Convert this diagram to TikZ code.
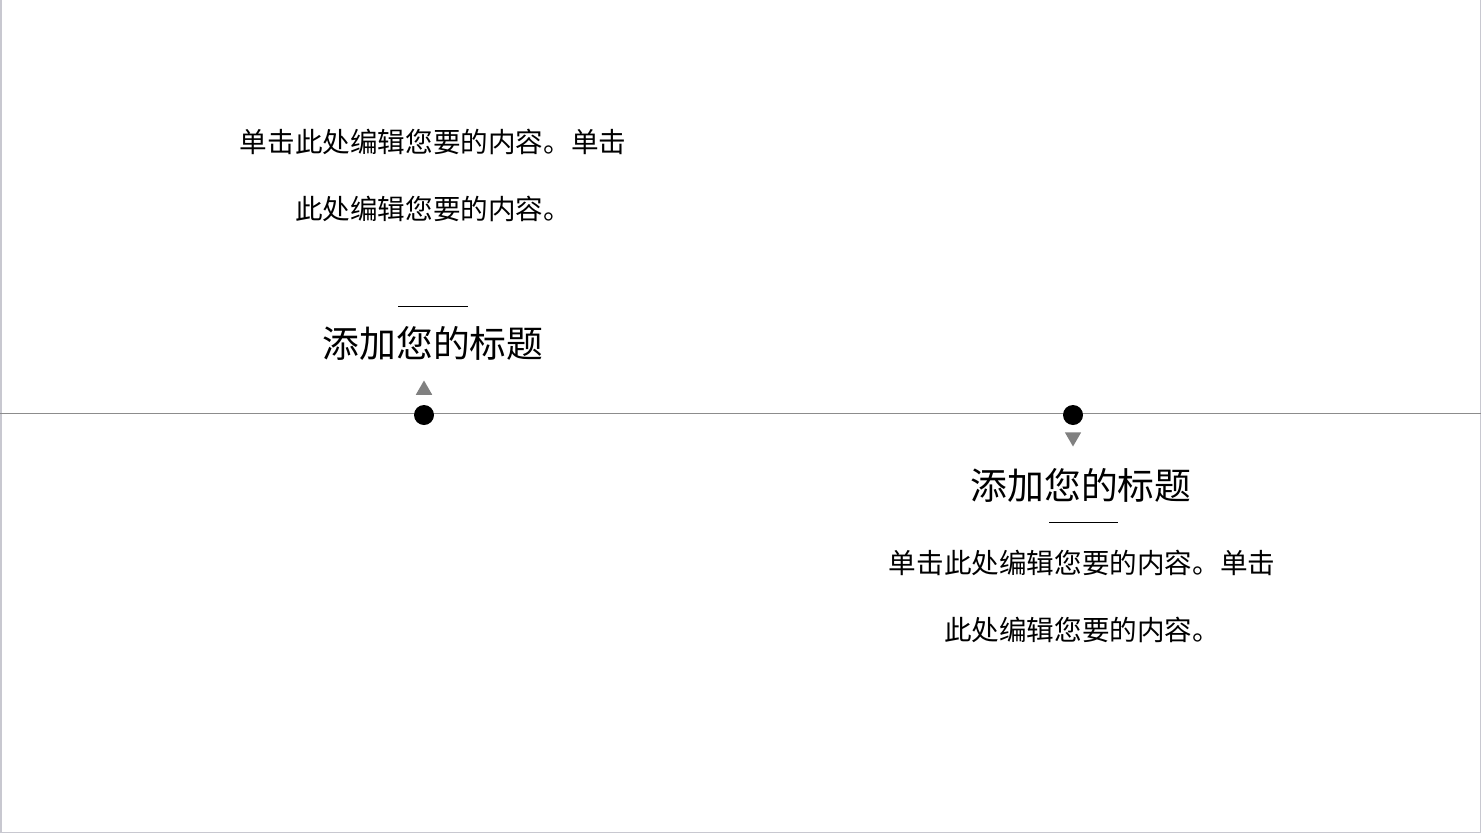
\documentclass[tikz,border=0pt]{standalone}
\usepackage{fontspec}
\newfontfamily\cjk{Noto Sans CJK SC}
\usetikzlibrary{shapes.geometric}
\definecolor{axisgray}{HTML}{8C8C8C}
\definecolor{markgray}{HTML}{808080}
\definecolor{framegray}{HTML}{C8C8D0}
\tikzset{
  dotmark/.style={circle,fill=black,inner sep=0pt,minimum size=20pt},
  trimark/.style={regular polygon,regular polygon sides=3,fill=markgray,inner sep=0pt,minimum size=19pt},
  titletext/.style={font=\cjk\fontsize{36.8}{40}\selectfont,inner sep=0pt},
  bodytext/.style={font=\cjk\fontsize{27.6}{67}\selectfont,align=center,inner sep=0pt},
  rulebar/.style={line width=1pt,black}
}
\begin{document}
\begin{tikzpicture}[x=1pt,y=-1pt]
\useasboundingbox (0,0) rectangle (1481,833);
\draw[framegray,line width=1.5pt] (0.75,0) -- (0.75,832.25) -- (1480.25,832.25) -- (1480.25,0);
% axis
\coordinate (axl) at (0,413);
\coordinate (axr) at (1481,413);
\draw[axisgray,line width=1pt] (axl) -- (axr);
% left item
\node[dotmark] (d1) at (424,415) {};
\node[trimark] (t1) at (424,390) {};
\node[titletext] (h1) at (433,343) {添加您的标题};
\coordinate (r1a) at (398,306);
\coordinate (r1b) at (468,306);
\draw[rulebar] (r1a) -- (r1b);
\node[bodytext] (b1) at (433,175) {单击此处编辑您要的内容。单击\\此处编辑您要的内容。};
% right item
\node[dotmark] (d2) at (1073,415) {};
\node[trimark,shape border rotate=180] (t2) at (1073,437) {};
\node[titletext] (h2) at (1081,485) {添加您的标题};
\coordinate (r2a) at (1049,522);
\coordinate (r2b) at (1118,522);
\draw[rulebar] (r2a) -- (r2b);
\node[bodytext] (b2) at (1082,596) {单击此处编辑您要的内容。单击\\此处编辑您要的内容。};
\end{tikzpicture}
\end{document}
